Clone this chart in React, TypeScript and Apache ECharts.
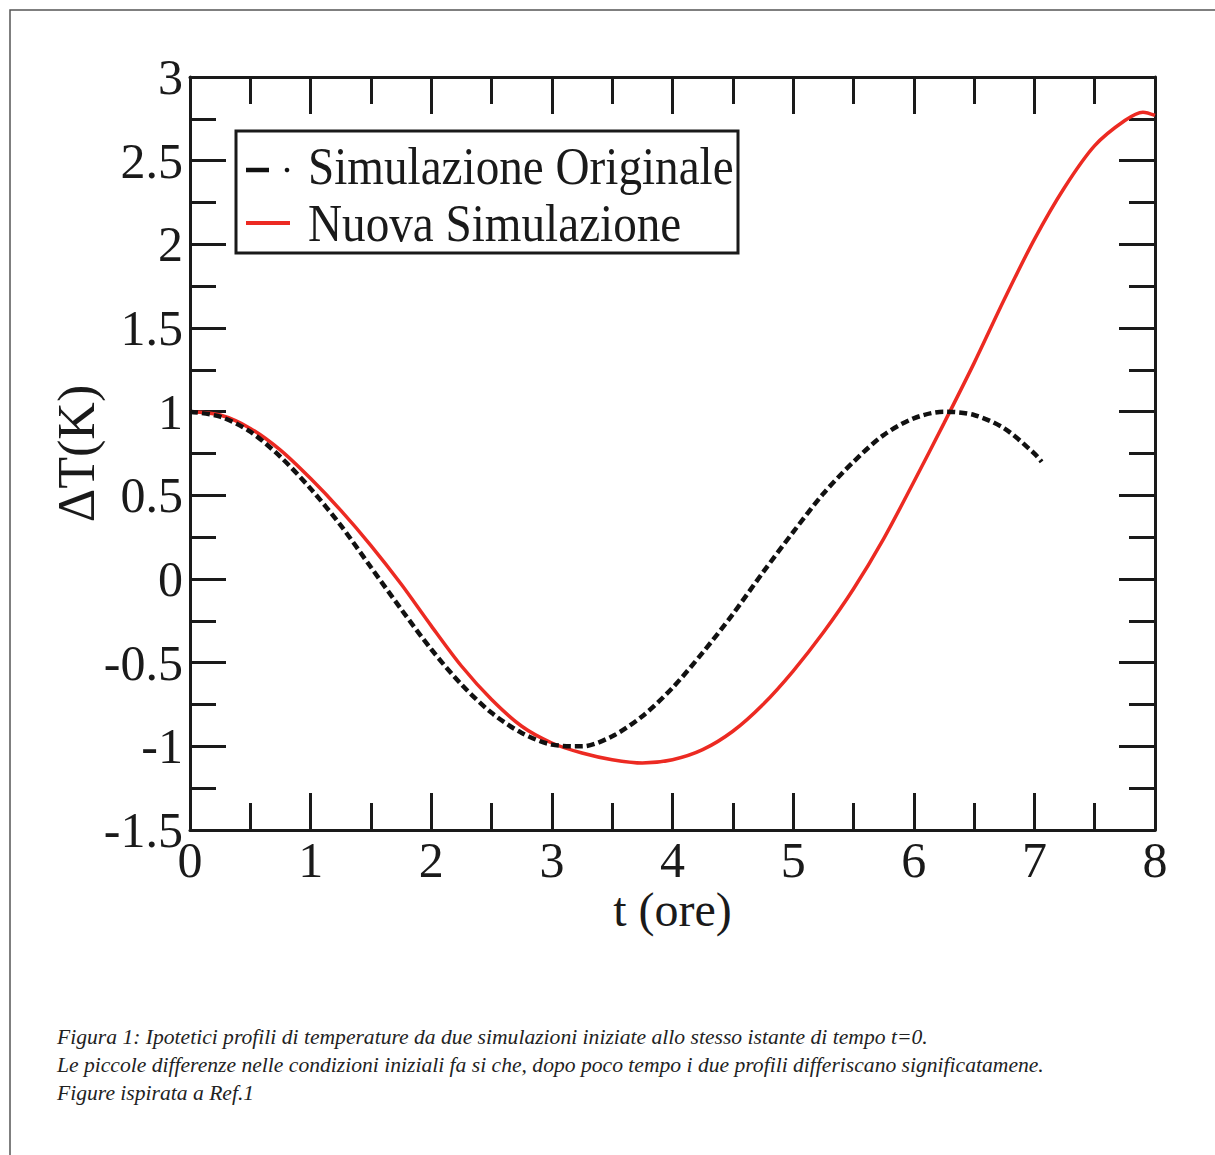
import React, { useEffect, useRef } from "react";
import * as echarts from "echarts";

// ---- Data ----
const tOriginal = [0, 0.25, 0.5, 0.75, 1.0, 1.25, 1.5, 1.75, 2.0, 2.25, 2.5, 2.75, 3.0, 3.25, 3.5, 3.75, 4.0, 4.25, 4.5, 4.75, 5.0, 5.25, 5.5, 5.75, 6.0, 6.25, 6.5, 6.75, 7.0, 7.06];
const vOriginal = [1.0, 0.97, 0.88, 0.73, 0.54, 0.32, 0.07, -0.18, -0.42, -0.63, -0.8, -0.92, -0.99, -1.0, -0.94, -0.82, -0.65, -0.44, -0.21, 0.04, 0.28, 0.51, 0.7, 0.86, 0.96, 1.0, 0.98, 0.9, 0.75, 0.7];

const tNuova = [0, 0.25, 0.5, 0.75, 1.0, 1.25, 1.5, 1.75, 2.0, 2.25, 2.5, 2.75, 3.0, 3.25, 3.5, 3.75, 4.0, 4.25, 4.5, 4.75, 5.0, 5.25, 5.5, 5.75, 6.0, 6.25, 6.5, 6.75, 7.0, 7.25, 7.5, 7.75, 7.9, 8.0];
const vNuova = [1.0, 0.98, 0.9, 0.77, 0.6, 0.41, 0.2, -0.03, -0.28, -0.52, -0.72, -0.88, -0.98, -1.04, -1.08, -1.1, -1.08, -1.02, -0.91, -0.75, -0.55, -0.32, -0.06, 0.24, 0.58, 0.93, 1.29, 1.67, 2.03, 2.34, 2.59, 2.74, 2.79, 2.77];

const seriesNames = ["Simulazione Originale", "Nuova Simulazione"];
const xAxisTitle = "t (ore)";
const yAxisTitle = "ΔT(K)";
const captionLines = [
  "Figura 1: Ipotetici profili di temperature da due simulazioni iniziate allo stesso istante di tempo t=0.",
  "Le piccole differenze nelle condizioni iniziali fa si che, dopo poco tempo i due profili differiscano significatamene.",
  "Figure ispirata a Ref.1",
];

const X_MIN = 0, X_MAX = 8, X_INT = 1;
const Y_MIN = -1.5, Y_MAX = 3, Y_INT = 0.5;

const INK = "#1a1a1a";
const RED = "#ec2a22";
const SERIF = "'Liberation Serif', 'Times New Roman', serif";

export default function App() {
  const ref = useRef<HTMLDivElement>(null);

  useEffect(() => {
    document.body.style.margin = "0";
    if (!ref.current) return;
    const chart = echarts.init(ref.current, undefined, { renderer: "svg" });

    const tickCommon = (len: number, minorLen: number) => ({
      axisLine: { show: true, onZero: false, lineStyle: { color: INK, width: 3 } },
      axisTick: { show: true, inside: true, length: len, lineStyle: { color: INK, width: 3 } },
      minorTick: { show: true, splitNumber: 2, length: minorLen, lineStyle: { color: INK, width: 3 } },
      splitLine: { show: false },
      minorSplitLine: { show: false },
    });

    const option: any = {
      animation: false,
      backgroundColor: "#fff",
      grid: { left: 190, right: 60, top: 77, bottom: 325, containLabel: false },
      xAxis: [
        {
          type: "value",
          min: X_MIN,
          max: X_MAX,
          interval: X_INT,
          position: "bottom",
          ...tickCommon(37, 27),
          axisLabel: { show: true, fontSize: 50, fontFamily: SERIF, color: INK, margin: 5 },
          name: xAxisTitle,
          nameLocation: "middle",
          nameGap: 55,
          nameMoveOverlap: false,
          nameTextStyle: { fontSize: 48, fontFamily: SERIF, color: INK },
        },
        {
          type: "value",
          min: X_MIN,
          max: X_MAX,
          interval: X_INT,
          position: "top",
          ...tickCommon(37, 27),
          axisLabel: { show: false },
        },
      ],
      yAxis: [
        {
          type: "value",
          min: Y_MIN,
          max: Y_MAX,
          interval: Y_INT,
          position: "left",
          ...tickCommon(36, 26),
          axisLabel: { show: true, fontSize: 50, fontFamily: SERIF, color: INK, margin: 7 },
          name: yAxisTitle,
          nameLocation: "middle",
          nameGap: 88,
          nameRotate: 90,
          nameMoveOverlap: false,
          nameTextStyle: { fontSize: 52, fontFamily: SERIF, color: INK },
        },
        {
          type: "value",
          min: Y_MIN,
          max: Y_MAX,
          interval: Y_INT,
          position: "right",
          ...tickCommon(36, 26),
          axisLabel: { show: false },
        },
      ],
      series: [
        {
          name: seriesNames[0],
          type: "line",
          xAxisIndex: 0,
          yAxisIndex: 0,
          data: tOriginal.map((t, i) => [t, vOriginal[i]]),
          showSymbol: false,
          smooth: 0.3,
          lineStyle: { color: "#111", width: 4.5, type: [8, 4] },
          z: 3,
        },
        {
          name: seriesNames[1],
          type: "line",
          xAxisIndex: 0,
          yAxisIndex: 0,
          data: tNuova.map((t, i) => [t, vNuova[i]]),
          showSymbol: false,
          smooth: 0.3,
          lineStyle: { color: RED, width: 3.5 },
          z: 2,
        },
      ],
      graphic: [
        // outer frame
        {
          type: "rect",
          shape: { x: 10, y: 10, width: 1400, height: 1400 },
          style: { fill: "none", stroke: "#555", lineWidth: 1.5 },
          silent: true,
        },
        // legend box
        {
          type: "group",
          z: 10,
          children: [
            {
              type: "rect",
              shape: { x: 236, y: 131, width: 502, height: 122 },
              style: { fill: "#fff", stroke: INK, lineWidth: 3 },
            },
            {
              type: "line",
              shape: { x1: 246, y1: 170, x2: 269, y2: 170 },
              style: { stroke: "#111", lineWidth: 4.5 },
            },
            {
              type: "circle",
              shape: { cx: 287, cy: 170, r: 2.3 },
              style: { fill: "#111" },
            },
            {
              type: "text",
              x: 308,
              y: 166,
              scaleX: 0.89,
              style: {
                text: seriesNames[0],
                font: `53px ${SERIF}`,
                fill: INK,
                textAlign: "left",
                textVerticalAlign: "middle",
                verticalAlign: "middle",
              },
            },
            {
              type: "line",
              shape: { x1: 246, y1: 223, x2: 290, y2: 223 },
              style: { stroke: RED, lineWidth: 4 },
            },
            {
              type: "text",
              x: 308,
              y: 223,
              scaleX: 0.89,
              style: {
                text: seriesNames[1],
                font: `53px ${SERIF}`,
                fill: INK,
                textAlign: "left",
                textVerticalAlign: "middle",
                verticalAlign: "middle",
              },
            },
          ],
        },
        // caption
        ...captionLines.map((line, i) => ({
          type: "text",
          x: 57,
          y: 1037 + i * 28,
          style: {
            text: line,
            font: `italic 21.6px ${SERIF}`,
            fill: "#222",
            textAlign: "left",
            textVerticalAlign: "middle",
            verticalAlign: "middle",
          },
        })),
      ],
    };

    chart.setOption(option);
    return () => chart.dispose();
  }, []);

  return <div ref={ref} style={{ width: 1215, height: 1155 }} />;
}
